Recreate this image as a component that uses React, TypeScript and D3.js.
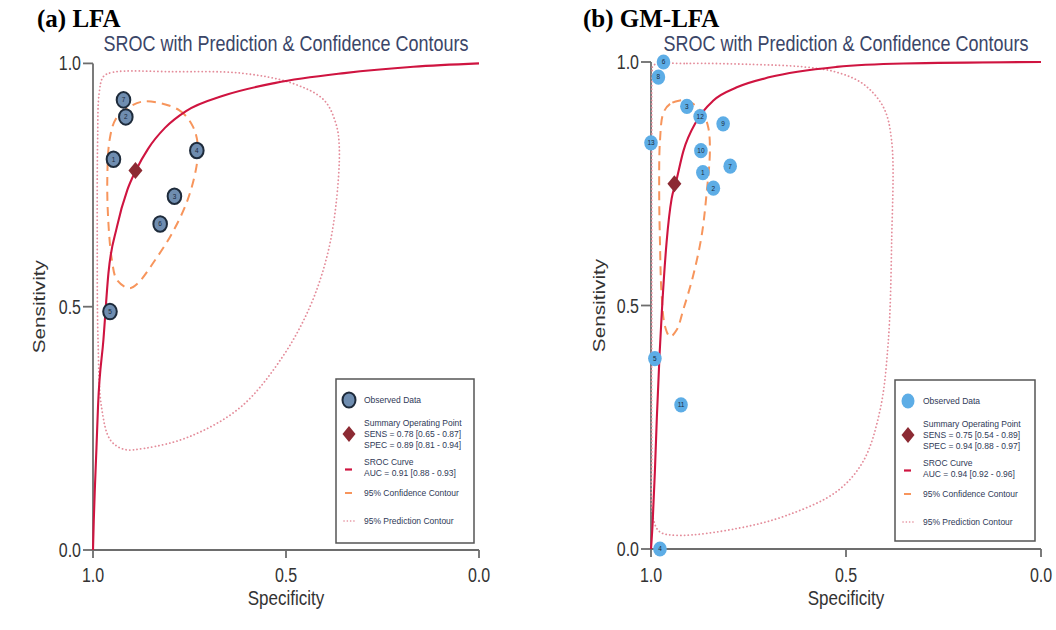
import { useEffect } from "react";
import * as d3 from "d3";

// ---- LFA (panel a) ----
const lfaLabels = ["1", "2", "3", "4", "5", "6", "7"];
const lfaSpec = [0.947, 0.915, 0.789, 0.731, 0.956, 0.826, 0.921];
const lfaSens = [0.803, 0.89, 0.727, 0.821, 0.49, 0.67, 0.925];
const lfaSummary = { spec: 0.89, sens: 0.78 };
const lfaSrocSpec = [1.0, 0.998, 0.995, 0.991, 0.987, 0.973, 0.96, 0.938, 0.911, 0.889, 0.857, 0.813, 0.759, 0.661, 0.527, 0.349, 0.17, 0.0];
const lfaSrocSens = [0.0, 0.06, 0.13, 0.21, 0.295, 0.432, 0.569, 0.664, 0.74, 0.78, 0.825, 0.868, 0.902, 0.934, 0.96, 0.98, 0.993, 1.0];
const lfaConfSpec = [0.866, 0.777, 0.741, 0.728, 0.732, 0.755, 0.795, 0.839, 0.884, 0.906, 0.938, 0.951, 0.96, 0.963, 0.957, 0.942, 0.911];
const lfaConfSens = [0.922, 0.904, 0.87, 0.829, 0.788, 0.719, 0.651, 0.596, 0.548, 0.538, 0.555, 0.596, 0.671, 0.76, 0.843, 0.884, 0.908];
const lfaPredSpec = [0.973, 0.947, 0.795, 0.617, 0.483, 0.402, 0.371, 0.362, 0.371, 0.394, 0.438, 0.509, 0.617, 0.75, 0.866, 0.92, 0.955, 0.978, 0.987, 0.989, 0.988, 0.984];
const lfaPredSens = [0.973, 0.982, 0.983, 0.98, 0.959, 0.925, 0.877, 0.829, 0.706, 0.603, 0.5, 0.397, 0.294, 0.233, 0.209, 0.207, 0.226, 0.294, 0.432, 0.637, 0.843, 0.939];
const lfaLegend = ["SENS = 0.78 [0.65 - 0.87]", "SPEC = 0.89 [0.81 - 0.94]", "AUC = 0.91 [0.88 - 0.93]"];

// ---- GM-LFA (panel b) ----
const gmLabels = ["1", "2", "3", "4", "5", "6", "7", "8", "9", "10", "11", "12", "13"];
const gmSpec = [0.867, 0.84, 0.908, 0.977, 0.99, 0.968, 0.797, 0.981, 0.815, 0.872, 0.923, 0.874, 1.0];
const gmSens = [0.773, 0.741, 0.909, 0.0, 0.391, 1.0, 0.786, 0.969, 0.873, 0.818, 0.296, 0.888, 0.834];
const gmSummary = { spec: 0.94, sens: 0.75 };
const gmSrocSpec = [1.0, 0.996, 0.99, 0.985, 0.978, 0.972, 0.96, 0.947, 0.937, 0.917, 0.883, 0.84, 0.78, 0.695, 0.524, 0.353, 0.0];
const gmSrocSens = [0.0, 0.05, 0.16, 0.27, 0.4, 0.49, 0.63, 0.72, 0.75, 0.817, 0.879, 0.921, 0.948, 0.969, 0.99, 0.997, 1.0];
const gmConfSpec = [0.926, 0.951, 0.968, 0.977, 0.979, 0.977, 0.973, 0.964, 0.951, 0.934, 0.917, 0.892, 0.87, 0.857, 0.849, 0.853, 0.866, 0.892, 0.908];
const gmConfSens = [0.921, 0.914, 0.896, 0.838, 0.734, 0.63, 0.526, 0.457, 0.436, 0.45, 0.492, 0.561, 0.644, 0.734, 0.817, 0.865, 0.893, 0.914, 0.921];
const gmPredSpec = [0.994, 0.908, 0.738, 0.609, 0.524, 0.456, 0.404, 0.383, 0.383, 0.392, 0.413, 0.456, 0.524, 0.652, 0.78, 0.926, 0.977, 0.994, 0.998, 0.998, 0.998, 0.997];
const gmPredSens = [0.993, 0.997, 0.995, 0.99, 0.979, 0.955, 0.907, 0.838, 0.63, 0.422, 0.284, 0.18, 0.118, 0.069, 0.042, 0.028, 0.035, 0.062, 0.215, 0.492, 0.838, 0.976];
const gmLegend = ["SENS = 0.75 [0.54 - 0.89]", "SPEC = 0.94 [0.88 - 0.97]", "AUC = 0.94 [0.92 - 0.96]"];

const tickValues = [0, 0.5, 1];
const tickLabels = ["0.0", "0.5", "1.0"];

const STRETCH = 1.22;
const SANS = "Arial, 'Liberation Sans', Helvetica, sans-serif";

function zip(a: number[], b: number[]) {
  return a.map((v, i) => [v, b[i]] as [number, number]);
}

function SText({ x, y, size, anchor = "start", fill = "#333", rotate = 0, children, stretch = STRETCH }: any) {
  const tr = `translate(${x},${y}) scale(1,${stretch})${rotate ? ` rotate(${rotate})` : ""}`;
  return (
    <text transform={tr} fontSize={size} textAnchor={anchor} fill={fill} fontFamily={SANS}>
      {children}
    </text>
  );
}

function Diamond({ cx, cy, w, h, fill }: any) {
  return <path d={`M${cx},${cy - h} L${cx + w},${cy} L${cx},${cy + h} L${cx - w},${cy} Z`} fill={fill} />;
}

function Panel(props: any) {
  const { x0, x1, yTop, yBottom, labels, spec, sens, summary, srocSpec, srocSens, confSpec, confSens, predSpec, predSens, legend, style, legendBox, sensLabelX } = props;
  const x = d3.scaleLinear().domain([1, 0]).range([x0, x1]);
  const y = d3.scaleLinear().domain([0, 1]).range([yBottom, yTop]);

  const open = d3.line<[number, number]>().x((d) => x(d[0])).y((d) => y(d[1])).curve(d3.curveMonotoneX);
  const closed = d3.line<[number, number]>().x((d) => x(d[0])).y((d) => y(d[1])).curve(d3.curveCatmullRomClosed.alpha(0.5));

  const cx = (x0 + x1) / 2;
  const lb = legendBox;
  const lx = lb.x + 13;
  const tx = lb.x + 28;
  const legColor = "#2f3a57";
  const ls = 8.5;

  return (
    <g>
      <SText x={cx} y={51} size={18} anchor="middle" fill="#3b4668">SROC with Prediction &amp; Confidence Contours</SText>

      {/* axes */}
      <g stroke="#6d6d6d" strokeWidth={1.8} fill="none">
        <line x1={x0} x2={x0} y1={y(0)} y2={y(1)} />
        {tickValues.map((t) => (
          <line key={"yt" + t} x1={x0 - 10} x2={x0} y1={y(t)} y2={y(t)} />
        ))}
        <line x1={x(1)} x2={x(0)} y1={yBottom} y2={yBottom} />
        {tickValues.map((t) => (
          <line key={"xt" + t} x1={x(t)} x2={x(t)} y1={yBottom} y2={yBottom + 8} />
        ))}
      </g>
      {tickValues.map((t, i) => (
        <SText key={"yl" + t} x={x0 - 12} y={y(t) + 7} size={16} anchor="end" fill="#333">{tickLabels[i]}</SText>
      ))}
      {tickValues.map((t, i) => (
        <SText key={"xl" + t} x={x(t)} y={582} size={16} anchor="middle" fill="#333">{tickLabels[i]}</SText>
      ))}
      <SText x={cx} y={605} size={17} anchor="middle" fill="#333">Specificity</SText>
      <SText x={sensLabelX} y={(yTop + yBottom) / 2} size={17} anchor="middle" fill="#333" rotate={-90}>Sensitivity</SText>

      {/* contours and curve */}
      <path d={closed(zip(predSpec, predSens)) || ""} fill="none" stroke="#e48d9b" strokeWidth={1.8} strokeDasharray="0.1 3.6" strokeLinecap="round" />
      <path d={closed(zip(confSpec, confSens)) || ""} fill="none" stroke="#f7955c" strokeWidth={2} strokeDasharray="9 6" />
      <path d={open(zip(srocSpec, srocSens)) || ""} fill="none" stroke="#cf1440" strokeWidth={2.1} />

      {/* observed points */}
      {labels.map((lab: string, i: number) => (
        <g key={"p" + lab}>
          <ellipse cx={x(spec[i])} cy={y(sens[i])} rx={style.rx} ry={style.ry} fill={style.fill} stroke={style.stroke} strokeWidth={style.strokeWidth} />
          <SText x={x(spec[i])} y={y(sens[i]) + 2.4} size={6.5} anchor="middle" fill="#1c2a3c">{lab}</SText>
        </g>
      ))}
      <Diamond cx={x(summary.spec)} cy={y(summary.sens)} w={7} h={8.5} fill="#8c2a33" />

      {/* legend */}
      <rect x={lb.x} y={lb.y} width={lb.w} height={lb.h} fill="#fff" stroke="#555" strokeWidth={1.5} />
      <ellipse cx={lx} cy={lb.y + 21} rx={6.5} ry={7.5} fill={style.fill} stroke={style.stroke} strokeWidth={style.strokeWidth} />
      <SText x={tx} y={lb.y + 24} size={ls} stretch={1.05} fill={legColor}>Observed Data</SText>
      <Diamond cx={lx} cy={lb.y + 55} w={6.5} h={8} fill="#8c2a33" />
      <SText x={tx} y={lb.y + 47} size={ls} stretch={1.05} fill={legColor}>Summary Operating Point</SText>
      <SText x={tx} y={lb.y + 58} size={ls} stretch={1.0} fill={legColor}>{legend[0]}</SText>
      <SText x={tx} y={lb.y + 68.5} size={ls} stretch={1.0} fill={legColor}>{legend[1]}</SText>
      <line x1={lx - 4} x2={lx + 3} y1={lb.y + 90.5} y2={lb.y + 90.5} stroke="#cf1440" strokeWidth={2.2} />
      <SText x={tx} y={lb.y + 85.5} size={ls} stretch={1.0} fill={legColor}>SROC Curve</SText>
      <SText x={tx} y={lb.y + 97} size={ls} stretch={1.0} fill={legColor}>{legend[2]}</SText>
      <line x1={lx - 4} x2={lx + 3} y1={lb.y + 114} y2={lb.y + 114} stroke="#f7955c" strokeWidth={2} />
      <SText x={tx} y={lb.y + 117} size={ls} stretch={1.05} fill={legColor}>95% Confidence Contour</SText>
      <line x1={lx - 5} x2={lx + 5} y1={lb.y + 142} y2={lb.y + 142} stroke="#e48d9b" strokeWidth={1.6} strokeDasharray="0.1 3.2" strokeLinecap="round" />
      <SText x={tx} y={lb.y + 145} size={ls} stretch={1.05} fill={legColor}>95% Prediction Contour</SText>
    </g>
  );
}

export default function App() {
  useEffect(() => {
    document.body.style.margin = "0";
  }, []);

  return (
    <svg width={1056} height={630} viewBox="0 0 1056 630" style={{ display: "block", background: "#fff" }}>
      <rect x={0} y={0} width={1056} height={630} fill="#fff" />
      <text x={37} y={27} fontSize={25} fontWeight="bold" fontFamily="'Times New Roman', 'Liberation Serif', serif" fill="#000">(a) LFA</text>
      <text x={583} y={27} fontSize={25} fontWeight="bold" fontFamily="'Times New Roman', 'Liberation Serif', serif" fill="#000">(b) GM-LFA</text>
      <Panel
        x0={93} x1={479} yTop={63.4} yBottom={550}
        labels={lfaLabels} spec={lfaSpec} sens={lfaSens} summary={lfaSummary}
        srocSpec={lfaSrocSpec} srocSens={lfaSrocSens}
        confSpec={lfaConfSpec} confSens={lfaConfSens}
        predSpec={lfaPredSpec} predSens={lfaPredSens}
        legend={lfaLegend}
        style={{ rx: 6.8, ry: 7.8, fill: "#6f8db0", stroke: "#1e2b3b", strokeWidth: 2 }}
        legendBox={{ x: 336, y: 379, w: 138, h: 164 }}
        sensLabelX={45}
      />
      <Panel
        x0={651} x1={1041} yTop={62} yBottom={549}
        labels={gmLabels} spec={gmSpec} sens={gmSens} summary={gmSummary}
        srocSpec={gmSrocSpec} srocSens={gmSrocSens}
        confSpec={gmConfSpec} confSens={gmConfSens}
        predSpec={gmPredSpec} predSens={gmPredSens}
        legend={gmLegend}
        style={{ rx: 6.8, ry: 7.6, fill: "#5dade6", stroke: "none", strokeWidth: 0 }}
        legendBox={{ x: 895, y: 380, w: 140, h: 161 }}
        sensLabelX={605}
      />
    </svg>
  );
}
